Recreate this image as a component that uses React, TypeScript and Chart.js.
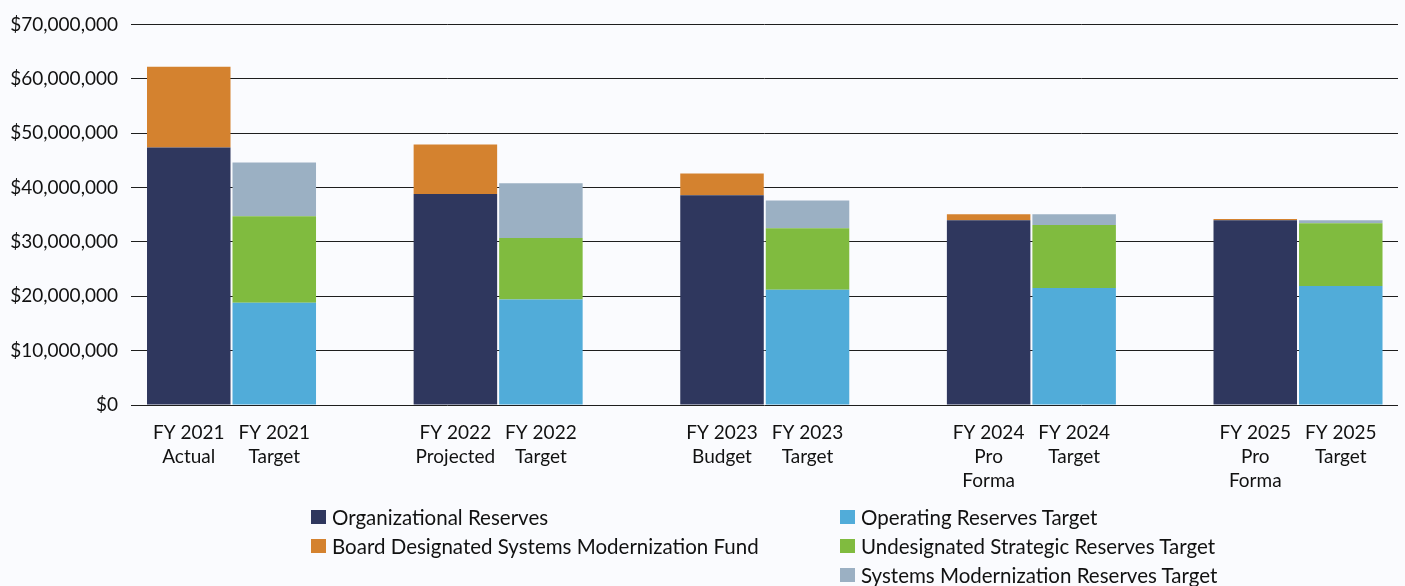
import React, { useEffect, useRef } from "react";
import { Chart, registerables } from "chart.js";

Chart.register(...registerables);

const categories = ["FY 2021", "FY 2022", "FY 2023", "FY 2024", "FY 2025"];
const actualLabels = [
  ["FY 2021", "Actual"],
  ["FY 2022", "Projected"],
  ["FY 2023", "Budget"],
  ["FY 2024", "Pro", "Forma"],
  ["FY 2025", "Pro", "Forma"],
];
const targetLabels = [
  ["FY 2021", "Target"],
  ["FY 2022", "Target"],
  ["FY 2023", "Target"],
  ["FY 2024", "Target"],
  ["FY 2025", "Target"],
];

const organizationalReserves = [47350000, 38800000, 38600000, 34000000, 34000000];
const boardDesignatedFund = [14850000, 9100000, 4000000, 1100000, 200000];
const operatingReservesTarget = [18800000, 19400000, 21200000, 21500000, 21900000];
const undesignatedStrategicTarget = [15900000, 11300000, 11300000, 11600000, 11550000];
const systemsModernizationTarget = [9900000, 10100000, 5100000, 2000000, 550000];

const yTicks = [0, 10000000, 20000000, 30000000, 40000000, 50000000, 60000000, 70000000];

const seriesNames = [
  "Organizational Reserves",
  "Board Designated Systems Modernization Fund",
  "Operating Reserves Target",
  "Undesignated Strategic Reserves Target",
  "Systems Modernization Reserves Target",
];
const seriesColors = ["#2f375e", "#d4822f", "#51acd9", "#80bb3f", "#9bb0c3"];
const seriesStacks = ["actual", "actual", "target", "target", "target"];
const seriesValues = [
  organizationalReserves,
  boardDesignatedFund,
  operatingReservesTarget,
  undesignatedStrategicTarget,
  systemsModernizationTarget,
];

const FONT = "Lato, 'Noto Sans', sans-serif";

const barLabelPlugin = {
  id: "barLabels",
  afterDraw(chart: any) {
    const ctx = chart.ctx;
    const actualMeta = chart.getDatasetMeta(0);
    const targetMeta = chart.getDatasetMeta(2);
    const top = chart.chartArea.bottom + 27.5;
    ctx.save();
    ctx.fillStyle = "#111111";
    ctx.font = `19px ${FONT}`;
    ctx.textAlign = "center";
    ctx.textBaseline = "middle";
    categories.forEach((_, i) => {
      const groups = [
        [actualMeta, actualLabels[i]],
        [targetMeta, targetLabels[i]],
      ];
      groups.forEach(([meta, lines]: any) => {
        const el = meta.data[i];
        if (!el) return;
        lines.forEach((line: string, k: number) => {
          ctx.fillText(line, el.x, top + k * 24.2);
        });
      });
    });
    ctx.restore();
  },
};

export default function App() {
  const canvasRef = useRef<HTMLCanvasElement | null>(null);

  useEffect(() => {
    const canvas = canvasRef.current;
    if (!canvas) return;
    const chart = new Chart(canvas, {
      type: "bar",
      data: {
        datasets: seriesNames.map((name, s) => ({
          label: name,
          data: seriesValues[s].map((v, i) => ({ x: i, y: v })),
          backgroundColor: seriesColors[s],
          borderWidth: 0,
          stack: seriesStacks[s],
          categoryPercentage: 0.6414,
          barPercentage: 0.9766,
        })),
      },
      options: {
        animation: false,
        responsive: false,
        maintainAspectRatio: false,
        layout: { padding: { top: 22, right: 7, bottom: 181, left: 0 } },
        plugins: {
          legend: { display: false },
          tooltip: { enabled: false },
        },
        scales: {
          x: {
            type: "linear",
            stacked: true,
            display: false,
            offset: false,
            min: -0.377,
            max: 4.375,
            afterBuildTicks(scale: any) {
              scale.ticks = categories.map((_, i) => ({ value: i }));
            },
          },
          y: {
            stacked: true,
            min: 0,
            max: 70000000,
            afterFit(scale: any) {
              scale.width = 131;
            },
            afterBuildTicks(scale: any) {
              scale.ticks = yTicks.map((v) => ({ value: v }));
            },
            grid: {
              color: "#1e1e1e",
              lineWidth: 1,
              drawTicks: false,
            },
            border: { display: false },
            ticks: {
              padding: 13,
              color: "#111111",
              font: { family: FONT, size: 19 },
              callback: (v: any) => "$" + Number(v).toLocaleString("en-US"),
            },
          },
        },
      },
      plugins: [barLabelPlugin],
    });
    return () => chart.destroy();
  }, []);

  const legendRows = [
    [0, 2],
    [1, 3],
    [-1, 4],
  ];

  return (
    <div
      style={{
        position: "absolute",
        left: 0,
        top: 0,
        width: 1405,
        height: 586,
        background: "#fafbfe",
        overflow: "hidden",
        fontFamily: FONT,
      }}
    >
      <canvas ref={canvasRef} width={1405} height={586} style={{ display: "block" }} />
      {legendRows.map((row, r) =>
        row.map((s, c) =>
          s < 0 ? null : (
            <div
              key={`${r}-${c}`}
              style={{
                position: "absolute",
                left: c === 0 ? 311 : 840,
                top: 517 + r * 29 - 12,
                height: 24,
                display: "flex",
                alignItems: "center",
                whiteSpace: "nowrap",
                fontSize: 20.5,
                color: "#111111",
              }}
            >
              <span
                style={{
                  display: "inline-block",
                  width: 14.5,
                  height: 14,
                  background: seriesColors[s],
                  marginRight: 6.5,
                }}
              />
              <span>{seriesNames[s]}</span>
            </div>
          )
        )
      )}
    </div>
  );
}
